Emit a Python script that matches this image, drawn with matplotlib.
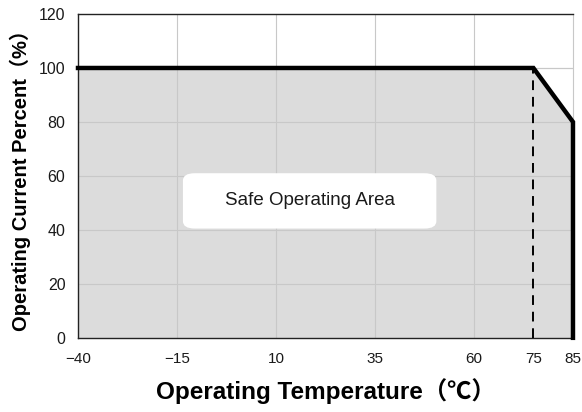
"""Derating curve - safe operating area vs temperature."""

import matplotlib.pyplot as plt
from matplotlib.patches import FancyBboxPatch

plt.rcParams["font.family"] = ["Liberation Sans", "Noto Sans CJK SC", "DejaVu Sans"]

# Derating curve: temperature (deg C) vs operating current (%)
temps = [-40, 75, 85, 85]
current = [100, 100, 80, 0]

x_ticks = [-40, -15, 10, 35, 60, 75, 85]
x_grid = [-15, 10, 35, 60]
y_ticks = [0, 20, 40, 60, 80, 100, 120]

knee_temp = 75
knee_current = 100

fig = plt.figure(figsize=(5.82, 4.12), dpi=100)
ax = fig.add_axes([0.134, 0.180, 0.8505, 0.786])

ax.set_xlim(-40, 85)
ax.set_ylim(0, 120)

# Grid lines
for gx in x_grid:
    ax.axvline(gx, color="#c8c8c8", linewidth=0.8, zorder=0)
for gy in y_ticks[1:-1]:
    ax.axhline(gy, color="#c8c8c8", linewidth=0.8, zorder=0)

# Safe area fill
ax.fill_between(temps, current, 0, color="#dcdcdc", zorder=1, linewidth=0)
for gx in x_grid:
    ax.plot([gx, gx], [0, 100], color="#c8c8c8", linewidth=0.8, zorder=1.5)
for gy in y_ticks[1:-1]:
    ax.plot([-40, 85], [gy, gy], color="#c8c8c8", linewidth=0.8, zorder=1.5)

# Curve
ax.plot(temps, current, color="black", linewidth=3.2, zorder=4,
        solid_joinstyle="miter", clip_on=False)
ax.plot([knee_temp, knee_temp], [0, knee_current], color="black",
        linewidth=1.4, linestyle=(0, (5, 3.5)), zorder=3)

# Label box
box = FancyBboxPatch((-13.5, 40.5), 64, 20.5,
                     boxstyle="round,pad=0,rounding_size=3",
                     facecolor="white", edgecolor="none", zorder=2,
                     mutation_aspect=0.9)
ax.add_patch(box)
ax.text(18.5, 51, "Safe Operating Area", ha="center", va="center",
        fontsize=13.5, color="#1a1a1a", zorder=3)

ax.set_xticks(x_ticks)
ax.set_xticklabels(["\u221240", "\u221215", "10", "35", "60", "75", "85"])
ax.set_yticks(y_ticks)
ax.tick_params(axis="both", length=0, colors="#1a1a1a")
ax.tick_params(axis="x", pad=10, labelsize=11)
ax.tick_params(axis="y", pad=9, labelsize=11.5)

for side in ["left", "bottom", "top"]:
    ax.spines[side].set_color("#222222")
    ax.spines[side].set_linewidth(1.0)
ax.spines["right"].set_color("#c8c8c8")
ax.spines["right"].set_linewidth(0.8)

ax.set_xlabel("Operating Temperature\uff08\u2103\uff09", fontsize=17.5,
              fontweight="bold", labelpad=9)
ax.set_ylabel("Operating Current Percent\uff08%\uff09", fontsize=14.5,
              fontweight="bold", labelpad=6)

fig.savefig("out.png", dpi=100)
